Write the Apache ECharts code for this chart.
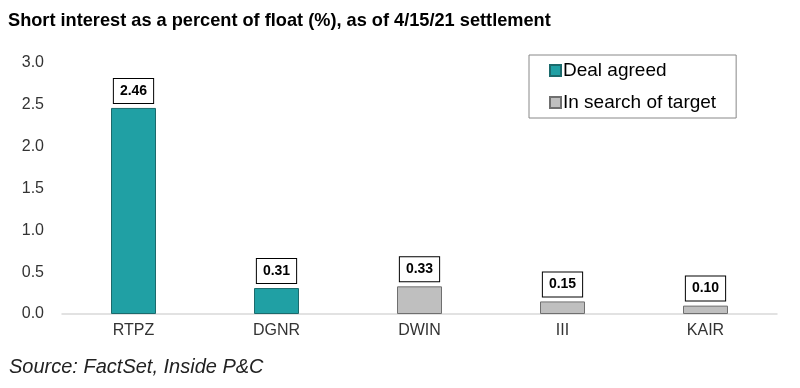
<!DOCTYPE html>
<html>
<head>
<meta charset="utf-8">
<script src="https://cdn.jsdelivr.net/npm/echarts@6/dist/echarts.min.js"></script>
<style>html,body{margin:0;padding:0;background:#fff}#c{width:800px;height:388px}</style>
</head>
<body>
<div id="c"></div>
<script>
var categories = ['RTPZ', 'DGNR', 'DWIN', 'III', 'KAIR'];
var dealAgreed = [2.46, 0.31, '-', '-', '-'];
var inSearch = ['-', '-', 0.33, 0.15, 0.10];
var yTicks = [0, 0.5, 1.0, 1.5, 2.0, 2.5, 3.0];

var chart = echarts.init(document.getElementById('c'), null, {renderer: 'canvas'});
var font = '"Liberation Sans", Arial, sans-serif';
var lbl = {
  show: true, position: 'top', distance: 5,
  backgroundColor: '#fff', borderColor: '#000', borderWidth: 1,
  padding: [5, 6, 5, 6], lineHeight: 14, fontFamily: font, fontWeight: 'bold', fontSize: 14, color: '#000',
  formatter: function (p) { return Number(p.value).toFixed(2); }
};
chart.setOption({
  animation: false,
  title: [{
    text: 'Short interest as a percent of float (%), as of 4/15/21 settlement',
    left: 8, top: 12, padding: 0,
    textStyle: {fontFamily: font, fontWeight: 'bold', fontSize: 18.2, color: '#000'}
  }, {
    text: 'Source: FactSet, Inside P&C',
    left: 9, top: 357, padding: 0,
    textStyle: {fontFamily: font, fontStyle: 'italic', fontWeight: 'normal', fontSize: 20, color: '#222'}
  }],
  legend: {
    orient: 'vertical', left: 529, top: 55,
    borderColor: '#888', borderWidth: 1,
    padding: [6, 20, 6, 20],
    itemWidth: 11, itemHeight: 11, itemGap: 13,
    icon: 'rect',
    textStyle: {fontFamily: font, fontSize: 19, color: '#000', padding: [0, 0, 0, -3]},
    data: ['Deal agreed', 'In search of target']
  },
  grid: {left: 62, right: 23, top: 62.7, bottom: 74},
  xAxis: {
    type: 'category', data: categories,
    axisLine: {lineStyle: {color: '#d9d9d9', width: 1.5}},
    axisTick: {show: false},
    axisLabel: {fontFamily: font, fontSize: 16, color: '#333', margin: 9}
  },
  yAxis: {
    type: 'value', min: 0, max: 3, interval: 0.5,
    splitLine: {show: false},
    axisLine: {show: false}, axisTick: {show: false},
    axisLabel: {fontFamily: font, fontSize: 16, color: '#333', margin: 18,
      formatter: function (v) { return v.toFixed(1); }}
  },
  series: [{
    name: 'Deal agreed', type: 'bar', stack: 's', data: dealAgreed,
    barWidth: 45,
    itemStyle: {color: '#20a0a4', borderColor: '#1b6a6c', borderWidth: 1},
    label: lbl
  }, {
    name: 'In search of target', type: 'bar', stack: 's', data: inSearch,
    barWidth: 45,
    itemStyle: {color: '#bfbfbf', borderColor: '#6f6f6f', borderWidth: 1},
    label: lbl
  }]
});
</script>
</body>
</html>
